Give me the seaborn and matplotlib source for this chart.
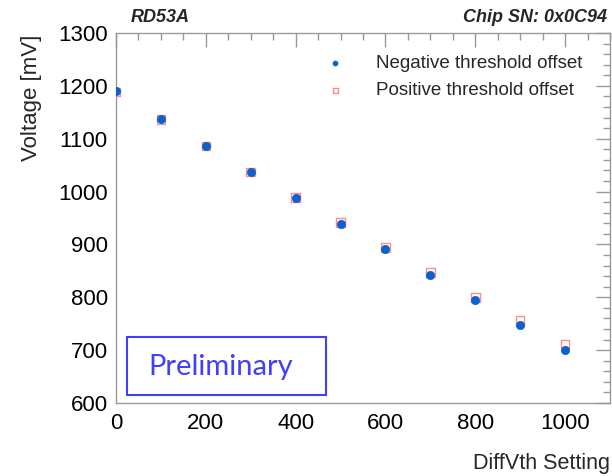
import matplotlib
matplotlib.use("Agg")
import matplotlib.pyplot as plt
from matplotlib.ticker import MultipleLocator
from matplotlib.patches import Rectangle
import seaborn as sns
import pandas as pd

diffvth = [0, 100, 200, 300, 400, 500, 600, 700, 800, 900, 1000]
neg_offset = [1190, 1138, 1087, 1037, 988, 939, 891, 842, 795, 748, 701]
pos_offset = [1188, 1136, 1086, 1037, 989, 942, 894, 847, 800, 756, 712]
labels = ["Negative threshold offset", "Positive threshold offset"]

sns.set_theme(style="white")
plt.rcParams['font.family'] = ['Liberation Sans', 'DejaVu Sans']

fig = plt.figure(figsize=(6.12, 4.76), dpi=100)
ax = fig.add_axes([116/612, 1-403/476, 494/612, 370/476])

df_neg = pd.DataFrame({"x": diffvth, "y": neg_offset})
df_pos = pd.DataFrame({"x": diffvth, "y": pos_offset})

sns.scatterplot(data=df_pos, x="x", y="y", ax=ax, marker="s", s=38,
                facecolors="none", edgecolor="#ff8c8c", linewidth=1.0,
                label=labels[1], zorder=2)
sns.scatterplot(data=df_neg, x="x", y="y", ax=ax, marker="o", s=36,
                color="#0b62cc", edgecolor="#0b62cc", linewidth=0.5,
                label=labels[0], zorder=3)

ax.set_xlim(0, 1100)
ax.set_ylim(600, 1300)
ax.xaxis.set_major_locator(MultipleLocator(200))
ax.xaxis.set_minor_locator(MultipleLocator(50))
ax.yaxis.set_major_locator(MultipleLocator(100))
ax.yaxis.set_minor_locator(MultipleLocator(20))
ax.tick_params(which="both", direction="in", top=True, right=True,
               color="#999999", width=1.0, labelsize=16, labelcolor="black")
ax.tick_params(which="major", length=10)
ax.tick_params(which="minor", length=5)
ax.tick_params(axis="x", pad=7)
ax.tick_params(axis="y", pad=6)
for sp in ax.spines.values():
    sp.set_color("#999999")
    sp.set_linewidth(1.0)

ax.set_xlabel("DiffVth Setting", fontsize=15.5, loc="right")
ax.xaxis.set_label_coords(1.0, -0.135)
ax.set_ylabel("Voltage [mV]", fontsize=16, loc="top")
ax.yaxis.set_label_coords(-0.15, 0.995)

h, l = ax.get_legend_handles_labels()
order = [l.index(labels[0]), l.index(labels[1])]
leg = ax.legend([h[i] for i in order], [l[i] for i in order], frameon=False,
                loc="upper left", bbox_to_anchor=(193/494, 1-14/370),
                fontsize=13.5, handletextpad=1.15, labelspacing=0.55,
                borderaxespad=0, markerscale=0.6)

fig.text(131/612, 1-18/476, "RD53A", fontsize=13, fontweight="bold",
         fontstyle="italic", ha="left", va="center")
fig.text(607/612, 1-18/476, "Chip SN: 0x0C94", fontsize=13, fontweight="bold",
         fontstyle="italic", ha="right", va="center")

rect = Rectangle((127/612, 1-395/476), 199/612, 58/476, transform=fig.transFigure,
                 facecolor="white", edgecolor="#4040f8", linewidth=1.5, zorder=5)
fig.patches.append(rect)
fig.text(221/612, 1-367/476, "Preliminary", fontsize=21, color="#4040f8",
         family=["Lato", "DejaVu Sans"], ha="center", va="center", zorder=6)

fig.savefig("out.png", dpi=100)
